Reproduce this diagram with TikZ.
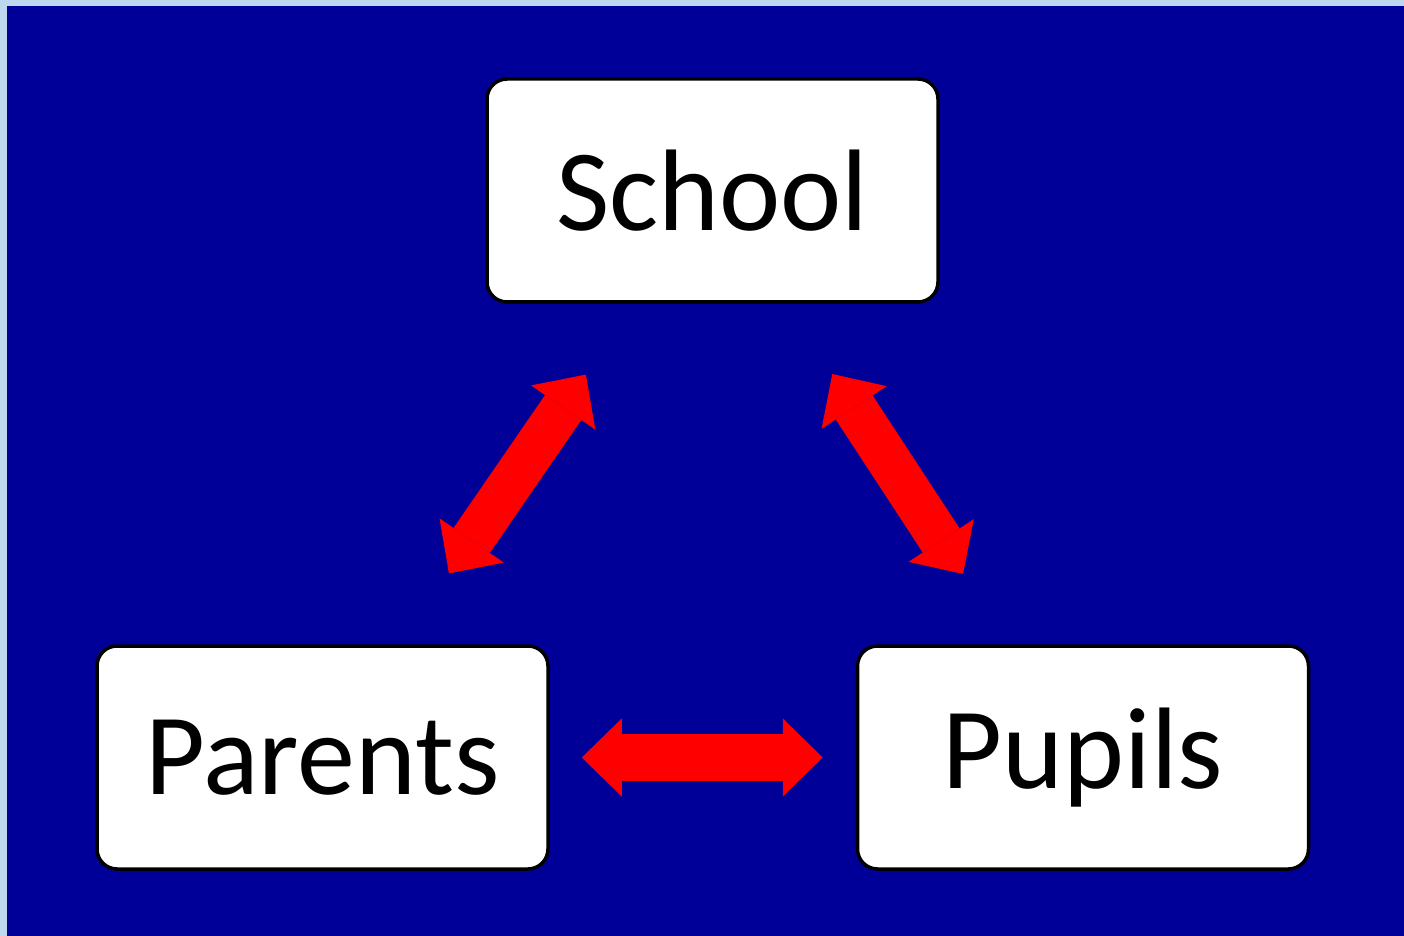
\documentclass[tikz,border=0pt]{standalone}
\usepackage{fontspec}
\setmainfont{Carlito}
\usetikzlibrary{arrows.meta, positioning}
\definecolor{slideblue}{RGB}{0,0,153}
\definecolor{edgeblue}{RGB}{189,215,238}

\begin{document}
\begin{tikzpicture}[
            x=0.5pt, y=-0.5pt,
            box/.style={
                draw=black, fill=white,
                line width=1.75pt,
                rounded corners=10pt,
                minimum width=225.5pt,
                minimum height=111.5pt,
                font=\fontsize{58}{70}\selectfont,
            },
            link/.style={
                draw=red, line width=#1,
                {Triangle[length=20pt,width=39pt,line width=0pt]}-{Triangle[length=20pt,width=39pt,line width=0pt]},
            }]
        \fill[edgeblue] (0,0) rectangle (1404,936);
        \fill[slideblue] (7,6) rectangle (1404,936);
        \node[box](school) at (712.5,190.5) {School};
        \node[box](parents) at (322.5,757.5) {Parents};
        \node[box](pupils) at (1083,757.5) {Pupils};
        \draw[link=22pt, shorten <=43pt, shorten >=43pt] (parents) -- (school);
        \draw[link=22pt, shorten <=42pt, shorten >=42pt] (school) -- (pupils);
        \draw[link=23.5pt, shorten <=16pt, shorten >=16.5pt] (parents) -- (pupils);
        \end{tikzpicture}
\end{document}
